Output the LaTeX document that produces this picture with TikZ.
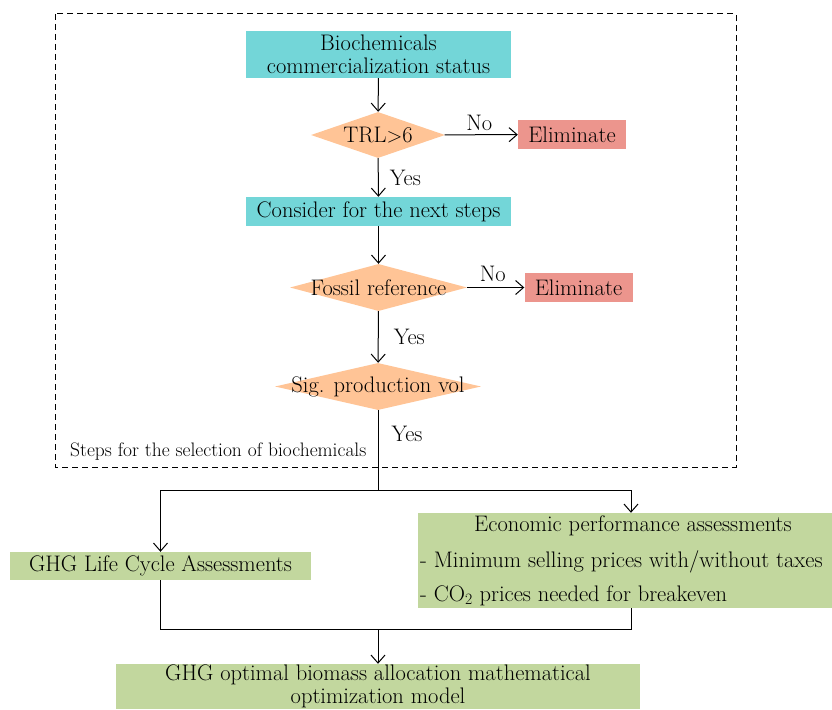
\documentclass[tikz,border=0pt]{standalone}
\usetikzlibrary{shapes.geometric,arrows.meta}
\definecolor{boxcyan}{RGB}{115,214,216}
\definecolor{diaorange}{RGB}{255,196,150}
\definecolor{elimred}{RGB}{236,149,141}
\definecolor{boxgreen}{RGB}{194,215,158}
\tikzset{
  flowbox/.style={fill=boxcyan,inner sep=0pt,align=center},
  decide/.style={diamond,fill=diaorange,inner sep=0pt,aspect=1},
  elimbox/.style={fill=elimred,inner sep=0pt,minimum width=108pt,minimum height=29pt},
  resultbox/.style={fill=boxgreen,inner sep=0pt,align=center},
  answer/.style={inner sep=1pt},
  flow/.style={line width=1pt,-{Straight Barb[length=8pt,width=14pt,line width=1pt]}},
  link/.style={line width=1pt},
}
\begin{document}
\begin{tikzpicture}[x=1pt,y=-1pt,font=\fontsize{22.5}{23.5}\selectfont]
  \useasboundingbox (0,0) rectangle (832,709);

  % selection steps
  \draw[dashed,dash pattern=on 6pt off 4pt,line width=1pt] (55,14) rectangle (736,467);
  \node[anchor=west,inner sep=0pt,font=\fontsize{19.5}{21}\selectfont] (steps) at (70,452) {Steps for the selection of biochemicals};

  \node[flowbox,minimum width=265pt,minimum height=47pt] (bio) at (378.5,54.5) {Biochemicals\\commercialization status};
  \node[decide,minimum width=134pt,minimum height=46pt] (trl) at (378,135) {\makebox[0pt]{TRL$>$6}};
  \node[elimbox] (elimA) at (572,134.5) {Eliminate};
  \node[flowbox,minimum width=265pt,minimum height=29pt] (consider) at (378.5,211.5) {Consider for the next steps};
  \node[decide,minimum width=177pt,minimum height=47pt] (fossil) at (378.5,287.5) {\makebox[0pt]{Fossil reference}};
  \node[elimbox] (elimB) at (578.5,287.5) {Eliminate};
  \node[decide,minimum width=206pt,minimum height=47pt] (sig) at (378,386.5) {\makebox[0pt]{Sig. production vol}};

  \draw[flow] (bio) -- (trl);
  \draw[flow] (trl) -- (elimA) node[answer,midway,above,yshift=3pt,xshift=-2pt] {No};
  \draw[flow] (trl) -- (consider) node[answer,midway,right,xshift=10pt] {Yes};
  \draw[flow] (consider) -- (fossil);
  \draw[flow] (fossil) -- (elimB) node[answer,midway,above,yshift=4pt,xshift=-3pt] {No};
  \draw[flow] (fossil) -- (sig) node[answer,midway,right,xshift=14pt] {Yes};

  % assessments
  \node[resultbox,minimum width=301pt,minimum height=28pt] (lca) at (160.5,566) {GHG Life Cycle Assessments};
  \node[resultbox,minimum width=414pt,minimum height=95pt] (econ) at (625,560.5) {};
  \node[inner sep=0pt] (econT) at (633,526) {Economic performance assessments};
  \node[anchor=west,inner sep=0pt] (econA) at (420,562) {- Minimum selling prices with/without taxes};
  \node[anchor=west,inner sep=0pt] (econB) at (420,596) {- CO\textsubscript{2} prices needed for breakeven};
  \node[resultbox,minimum width=524pt,minimum height=45pt,font=\fontsize{22.5}{22.5}\selectfont] (model) at (378,686.5) {GHG optimal biomass allocation mathematical\\optimization model};

  \coordinate (split) at (378,490);
  \coordinate (join) at (378,629);
  \draw[link] (sig) -- (split) node[answer,pos=0.3,right,xshift=12pt] {Yes};
  \draw[flow] (split) -| (lca);
  \draw[flow] (split) -| ([xshift=6pt]econ.north);
  \draw[link] (lca) |- (join);
  \draw[link] ([xshift=6pt]econ.south) |- (join);
  \draw[flow] (join) -- (model);
\end{tikzpicture}
\end{document}
